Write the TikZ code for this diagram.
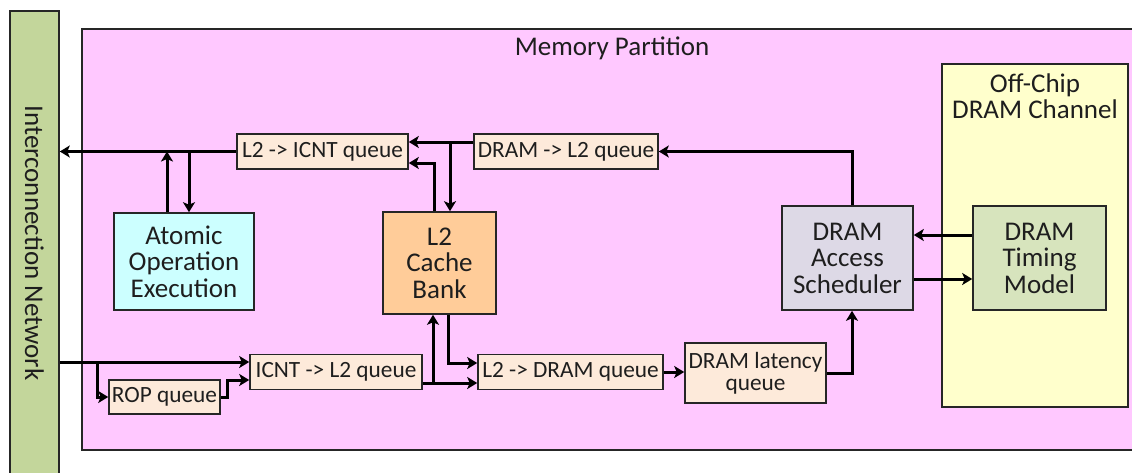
\documentclass[tikz,border=0pt]{standalone}
\usepackage{fontspec}
\setmainfont{Carlito}
\usetikzlibrary{arrows.meta}
\definecolor{netgreen}{HTML}{C3D69B}
\definecolor{partpink}{HTML}{FFC8FF}
\definecolor{chanyellow}{HTML}{FFFFCC}
\definecolor{queuefill}{HTML}{FDEADA}
\definecolor{atomcyan}{HTML}{CCFFFF}
\definecolor{cacheorange}{HTML}{FFCC99}
\definecolor{schedgray}{HTML}{DDD9E6}
\definecolor{timegreen}{HTML}{D7E4BD}
\definecolor{inkgray}{HTML}{1E1E1E}
\tikzset{
  blk/.style={draw=black!85, line width=1.6pt, inner sep=0pt, align=center, text=inkgray},
  bigtxt/.style={font=\fontsize{27}{26.5}\selectfont},
  qtxt/.style={font=\fontsize{23.3}{22}\selectfont},
  qbox/.style={blk, qtxt, fill=queuefill},
  arr/.style={line width=3pt, -{Stealth[length=10pt,width=12pt,inset=2.5pt]}},
}
\begin{document}
\begin{tikzpicture}[x=1pt,y=-1pt]
\useasboundingbox (0,0) rectangle (1132,472);
\fill[white] (0,0) rectangle (1132,472);
% memory partition frame (runs off the right edge)
\begin{scope}
\clip (0,0) rectangle (1132,472);
\draw[blk, fill=partpink] (82,29) rectangle (1145,450);
\node[blk, fill=netgreen, minimum width=49pt, minimum height=464pt] (icn) at (34.5,243) {};
\end{scope}
\node[rotate=-90, bigtxt, text=inkgray] (icnlbl) at (icn.center) {Interconnection Network};
\node[bigtxt, text=inkgray] (mplbl) at (612,48) {Memory Partition};

% off-chip channel
\node[blk, fill=chanyellow, minimum width=186pt, minimum height=343pt] (chan) at (1035,235.5) {};
\node[bigtxt, align=center, text=inkgray] (chanlbl) at (1035,96) {Off-Chip\\DRAM Channel};

% blocks
\node[blk, bigtxt, fill=timegreen, minimum width=133pt, minimum height=104pt] (timing) at (1039.5,258) {DRAM\\Timing\\Model};
\node[blk, bigtxt, fill=schedgray, minimum width=131pt, minimum height=104pt] (sched) at (847.5,258) {DRAM\\Access\\Scheduler};
\node[blk, bigtxt, fill=cacheorange, minimum width=113pt, minimum height=102pt] (bank) at (439.5,263) {L2\\Cache\\Bank};
\node[blk, bigtxt, fill=atomcyan, minimum width=140pt, minimum height=97pt] (atomic) at (184,261.5) {Atomic\\Operation\\Execution};

% queues
\node[qbox, minimum width=171pt, minimum height=35pt] (l2icnt) at (322.5,151.5) {L2 -> ICNT queue};
\node[qbox, minimum width=184pt, minimum height=35pt] (dramltwo) at (566,151.5) {DRAM -> L2 queue};
\node[qbox, minimum width=172pt, minimum height=35pt] (icntl2) at (336,372) {ICNT -> L2 queue};
\node[qbox, minimum width=185pt, minimum height=35pt] (l2dram) at (570.5,372) {L2 -> DRAM queue};
\node[qbox, minimum width=141pt, minimum height=60pt] (latency) at (755.5,373) {DRAM latency\\queue};
\node[qbox, minimum width=111pt, minimum height=34pt] (rop) at (164.5,397) {ROP queue};

% return path towards the interconnect
\draw[arr] ([yshift=9.5pt]dramltwo.west) -- ([yshift=9.5pt]l2icnt.east);
\coordinate (fillsplit) at (450,142);
\draw[arr] (fillsplit) -- (fillsplit |- bank.north);
\draw[arr] ([xshift=-5.5pt]bank.north) |- ([yshift=-11.5pt]l2icnt.east);
\draw[arr] (l2icnt.west) -- (l2icnt.west -| icn.east);
\draw[arr] ([xshift=-17pt]atomic.north) -- ([xshift=-17pt]atomic.north |- l2icnt.west);
\draw[arr] ([xshift=5pt]atomic.north |- l2icnt.west) -- ([xshift=5pt]atomic.north);
\draw[arr] ([xshift=4.5pt]sched.north) |- (dramltwo.east);

% scheduler <-> timing model
\draw[arr] ([yshift=23pt]timing.west) -- ([yshift=23pt]sched.east);
\draw[arr] ([yshift=-21pt]sched.east) -- ([yshift=-21pt]timing.west);

% request path from the interconnect
\coordinate (inport) at (icn.east |- 0,362);
\draw[arr] (inport) -- ([yshift=10pt]icntl2.west);
\coordinate (ropsplit) at (97,362);
\draw[arr] (ropsplit) |- (rop.west);
\draw[arr] (rop.east) -- ++(7,0) |- ([yshift=-8pt]icntl2.west);
\draw[arr] ([yshift=-11pt]icntl2.east) -- ([yshift=-11pt]l2dram.west);
\coordinate (misssplit) at (433,383);
\draw[arr] (misssplit) -- (misssplit |- bank.south);
\draw[arr] ([xshift=8.5pt]bank.south) |- ([yshift=9pt]l2dram.west);
\draw[arr] (l2dram.east) -- (latency.west |- l2dram.east);
\draw[arr] (latency.east) -| ([xshift=4.5pt]sched.south);
\end{tikzpicture}
\end{document}
